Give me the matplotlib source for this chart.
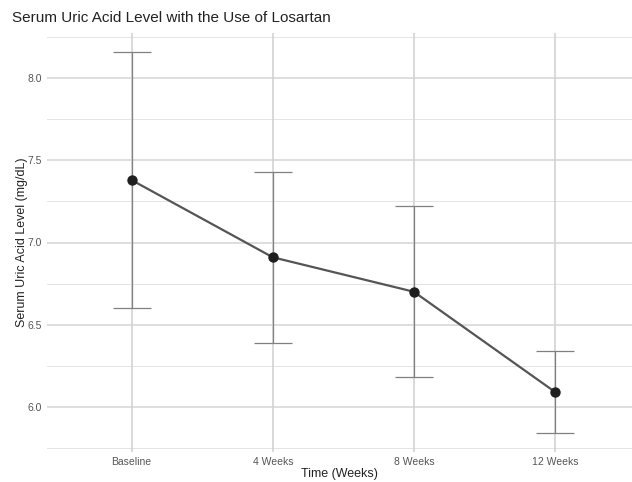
import matplotlib
matplotlib.use("Agg")
import matplotlib.pyplot as plt
import numpy as np

# data
timepoints = ["Baseline", "4 Weeks", "8 Weeks", "12 Weeks"]
mean_ua = [7.38, 6.91, 6.70, 6.09]
lower_ua = [6.60, 6.39, 6.18, 5.84]
upper_ua = [8.16, 7.43, 7.22, 6.34]

plt.rcParams["font.family"] = ["Liberation Sans", "DejaVu Sans"]

fig = plt.figure(figsize=(6.32, 4.82), dpi=100)
ax = fig.add_axes([47 / 632, 1 - 452 / 482, 585 / 632, 419 / 482])

x = np.arange(len(timepoints))
mean = np.array(mean_ua)
lo = np.array(lower_ua)
hi = np.array(upper_ua)

# grid
for v in np.arange(5.75, 8.3, 0.25):
    major = abs(v * 2 - round(v * 2)) < 1e-6
    ax.axhline(v, color="#d4d4d4" if major else "#e4e4e4",
               lw=1.1 if major else 0.7, zorder=0)
for xi in x:
    ax.axvline(xi, color="#d0d0d0", lw=1.1, zorder=0)

# error bars
ax.errorbar(x, mean, yerr=[mean - lo, hi - mean], fmt="none",
            ecolor="#808080", elinewidth=0.9, capsize=14, capthick=0.9, zorder=2)
ax.plot(x, mean, color="#555555", lw=1.6, zorder=3)
ax.scatter(x, mean, s=42, color="#1f1f1f", zorder=4)

ax.set_xlim(-0.6, 3.546)
ax.set_ylim(5.724, 8.276)
ax.set_xticks(x)
ax.set_xticklabels(timepoints)
ax.set_yticks([6.0, 6.5, 7.0, 7.5, 8.0])
ax.set_yticklabels(["6.0", "6.5", "7.0", "7.5", "8.0"])
ax.tick_params(length=0, labelsize=7.5, labelcolor="#555555", pad=3.5)
for s in ax.spines.values():
    s.set_visible(False)

ax.set_xlabel("Time (Weeks)", fontsize=9, color="#222222", labelpad=1)
ax.set_ylabel("Serum Uric Acid Level (mg/dL)", fontsize=9, color="#222222", labelpad=0)
fig.text(12 / 632, 1 - 18 / 482, "Serum Uric Acid Level with the Use of Losartan",
         fontsize=11, color="#222222", va="center", ha="left")

fig.savefig("out.png", dpi=100)
